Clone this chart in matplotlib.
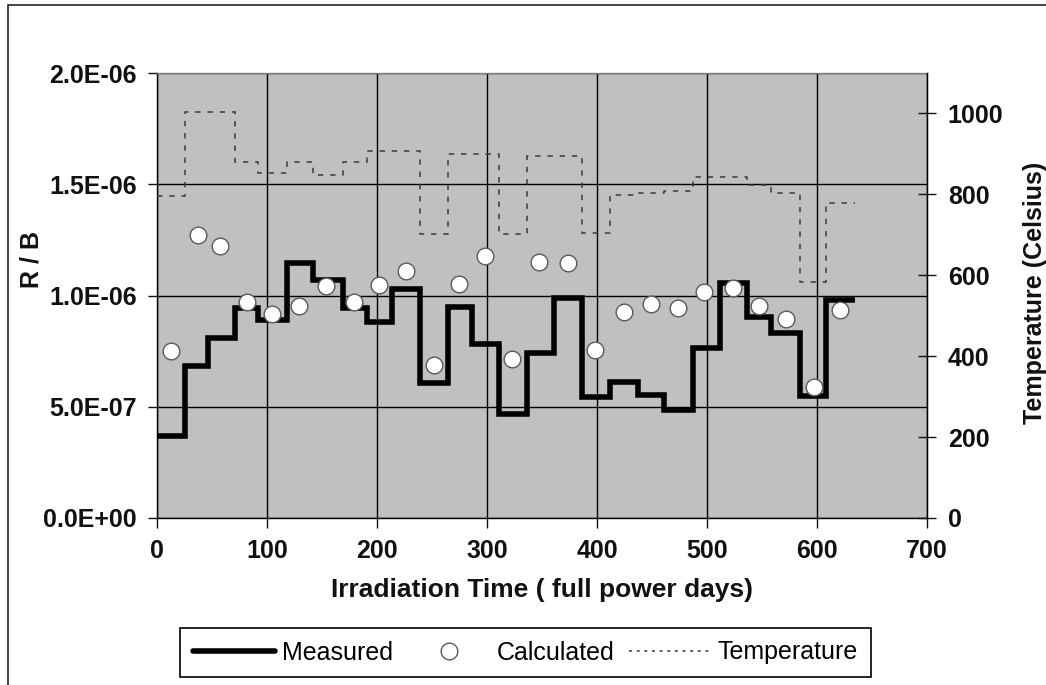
import matplotlib.pyplot as plt
from matplotlib.lines import Line2D
from matplotlib.patches import Rectangle
from matplotlib.ticker import FuncFormatter, MultipleLocator

plt.rcParams["font.family"] = ["Liberation Sans", "DejaVu Sans"]

# --- Data ---
# step boundaries of the irradiation cycles (full power days)
cycle_edges = [0, 25, 46, 71, 92, 118, 142, 169, 191, 214, 239, 265, 286, 311,
               336, 361, 386, 412, 437, 461, 487, 512, 536, 558, 585, 608, 635]
# measured R/B per cycle (x 1e-7)
measured = [3.7, 6.85, 8.1, 9.45, 8.9, 11.45, 10.7, 9.45, 8.8, 10.3, 6.05, 9.5,
            7.8, 4.67, 7.4, 9.9, 5.45, 6.1, 5.55, 4.85, 7.65, 10.55, 9.05, 8.3,
            5.5, 9.8]
# calculated R/B at mid-cycle
calc_days = [12.5, 37, 57, 82, 105, 129, 153.5, 179.5, 202, 226.5, 251.5, 275,
             298.5, 322.5, 347, 374, 398.5, 425, 449, 473.5, 497.5, 524, 547,
             571.5, 597, 620.5]
calculated = [7.49, 12.7, 12.22, 9.7, 9.17, 9.52, 10.42, 9.7, 10.45, 11.1, 6.89,
              10.5, 11.77, 7.16, 11.5, 11.47, 7.57, 9.25, 9.64, 9.45, 10.15,
              10.35, 9.55, 8.95, 5.89, 9.34]
# irradiation temperature per cycle (Celsius)
temperature = [797, 1004, 1004, 881, 853, 881, 848, 881, 908, 908, 702, 901, 901,
               702, 895, 895, 704, 798, 803, 809, 844, 844, 823, 804, 584, 779]

measured = [v * 1e-7 for v in measured]
calculated = [v * 1e-7 for v in calculated]

# --- Figure ---
fig = plt.figure(figsize=(10.46, 6.85), dpi=100)
ax = fig.add_axes([0.1501, 0.2438, 0.7361, 0.6496])
ax.set_facecolor("#c0c0c0")
ax.set_axisbelow(True)

ax.stairs(measured, cycle_edges, baseline=None, color="black", lw=4,
          joinstyle="miter", zorder=3)
ax.plot(calc_days, calculated, "o", ms=12, mfc="white", mec="#5a5a5a", mew=1.0,
        zorder=4)

ax.set_xlim(0, 700)
ax.set_ylim(0, 2.0e-6)
ax.xaxis.set_major_locator(MultipleLocator(100))
ax.yaxis.set_major_locator(MultipleLocator(0.5e-6))
ax.yaxis.set_major_formatter(FuncFormatter(lambda v, p: f"{v:.1E}"))
ax.grid(True, color="black", lw=1.0)

ax.tick_params(axis="x", direction="out", length=7, width=1.0, pad=8,
               labelsize=18, colors="#111111")
ax.tick_params(axis="y", direction="out", length=6.5, width=1.0, pad=8,
               labelsize=18, colors="#111111")
for lbl in ax.get_xticklabels() + ax.get_yticklabels():
    lbl.set_fontweight("bold")

for s in ["left", "bottom"]:
    ax.spines[s].set_color("black")
    ax.spines[s].set_linewidth(1.0)
ax.spines["top"].set_color("#808080")
ax.spines["top"].set_linewidth(1.0)

ax.set_xlabel("Irradiation Time ( full power days)", fontsize=19,
              fontweight="bold", color="#111111")
ax.xaxis.set_label_coords(0.5, -0.135)
ax.set_ylabel("R / B", fontsize=18, fontweight="bold", color="#111111")
ax.yaxis.set_label_coords(-0.148, 0.58)

# --- Temperature on secondary axis ---
ax2 = ax.twinx()
ax2.stairs(temperature, cycle_edges, baseline=None, color="#3a3a3a", lw=1.1,
           linestyle=(0, (3.5, 4.5)))
ax2.set_ylim(0, 1100)
ax2.set_yticks(range(0, 1001, 200))
ax2.tick_params(axis="y", direction="inout", length=13, width=1.0, pad=8.5,
                labelsize=18, colors="#111111")
for lbl in ax2.get_yticklabels():
    lbl.set_fontweight("bold")
ax2.spines["right"].set_color("black")
ax2.spines["right"].set_linewidth(1.0)
ax2.spines["top"].set_visible(False)
ax2.spines["left"].set_visible(False)
ax2.spines["bottom"].set_visible(False)
ax2.set_ylabel("Temperature (Celsius)", fontsize=18, fontweight="bold",
               color="#111111")
ax2.yaxis.set_label_coords(1.125, 0.507)

# --- Legend ---
handles = [
    Line2D([], [], color="black", lw=4, solid_capstyle="round"),
    Line2D([], [], ls="none", marker="o", ms=12, mfc="white", mec="#5a5a5a",
           mew=1.0),
    Line2D([], [], color="#3a3a3a", lw=1.1, linestyle=(0, (2, 3))),
]
leg = fig.legend(handles, ["Measured", "Calculated", "Temperature"], ncol=3,
                 loc="center", bbox_to_anchor=(525.5 / 1046, 1 - 652.5 / 685),
                 fontsize=18, handlelength=3.3, handletextpad=0.25,
                 columnspacing=0.6, borderpad=0.5, fancybox=False,
                 edgecolor="black", framealpha=1)
leg.get_frame().set_linewidth(1.2)

# outer frame of the chart area
fig.patches.append(Rectangle((8 / 1046, -0.1), 1.2, 1.1 - 5 / 685,
                             transform=fig.transFigure, fill=False,
                             edgecolor="#222222", lw=1.2))

fig.savefig("out.png", dpi=100)
